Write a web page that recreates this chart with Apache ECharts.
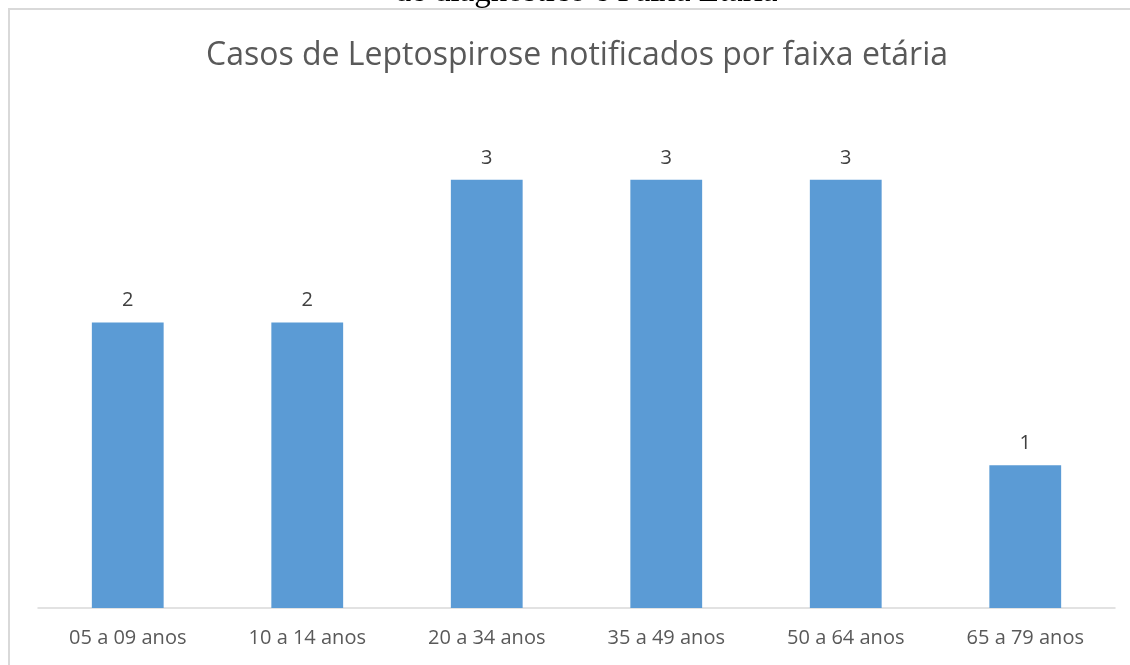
<!DOCTYPE html>
<html>
<head>
<meta charset="utf-8">
<script src="https://cdn.jsdelivr.net/npm/echarts@6/dist/echarts.min.js"></script>
<style>
html,body{margin:0;padding:0;background:#fff;}
#main{width:1130px;height:665px;}
</style>
</head>
<body>
<div id="main"></div>
<script>
const titleText = 'Casos de Leptospirose notificados por faixa etária';
const captionText = 'de diagnóstico e Faixa Etária';
const categories = ['05 a 09 anos', '10 a 14 anos', '20 a 34 anos', '35 a 49 anos', '50 a 64 anos', '65 a 79 anos'];
const values = [2, 2, 3, 3, 3, 1];

const chart = echarts.init(document.getElementById('main'), null, {renderer: 'canvas'});
chart.setOption({
  backgroundColor: '#ffffff',
  animation: false,
  graphic: [
    {
      type: 'rect',
      shape: {x: 9, y: 9, width: 1200, height: 800},
      style: {fill: 'none', stroke: '#d9d9d9', lineWidth: 2},
      silent: true
    },
    {
      type: 'text',
      x: 586, y: 9,
      style: {
        text: captionText,
        font: '33px "Liberation Serif"',
        fill: '#000',
        textAlign: 'center',
        textVerticalAlign: 'bottom'
      },
      silent: true
    },
    {
      type: 'text',
      x: 577, y: 56,
      style: {
        text: titleText,
        font: '32px "Open Sans"',
        fill: '#595959',
        textAlign: 'center',
        textVerticalAlign: 'middle'
      },
      silent: true
    }
  ],
  grid: {left: 38, right: 15, top: 108.5, bottom: 57, containLabel: false},
  xAxis: {
    type: 'category',
    data: categories,
    axisLine: {lineStyle: {color: '#d9d9d9', width: 1.5}},
    axisTick: {show: false},
    axisLabel: {fontFamily: 'Open Sans', fontSize: 20, color: '#595959', margin: 20}
  },
  yAxis: {
    type: 'value',
    min: 0, max: 3.5,
    show: false,
    splitLine: {show: false}
  },
  series: [{
    type: 'bar',
    data: values,
    barWidth: '40%',
    itemStyle: {color: '#5b9bd5'},
    label: {show: true, position: 'top', distance: 12, fontFamily: 'Open Sans', fontSize: 20, color: '#404040'}
  }]
});
</script>
</body>
</html>
